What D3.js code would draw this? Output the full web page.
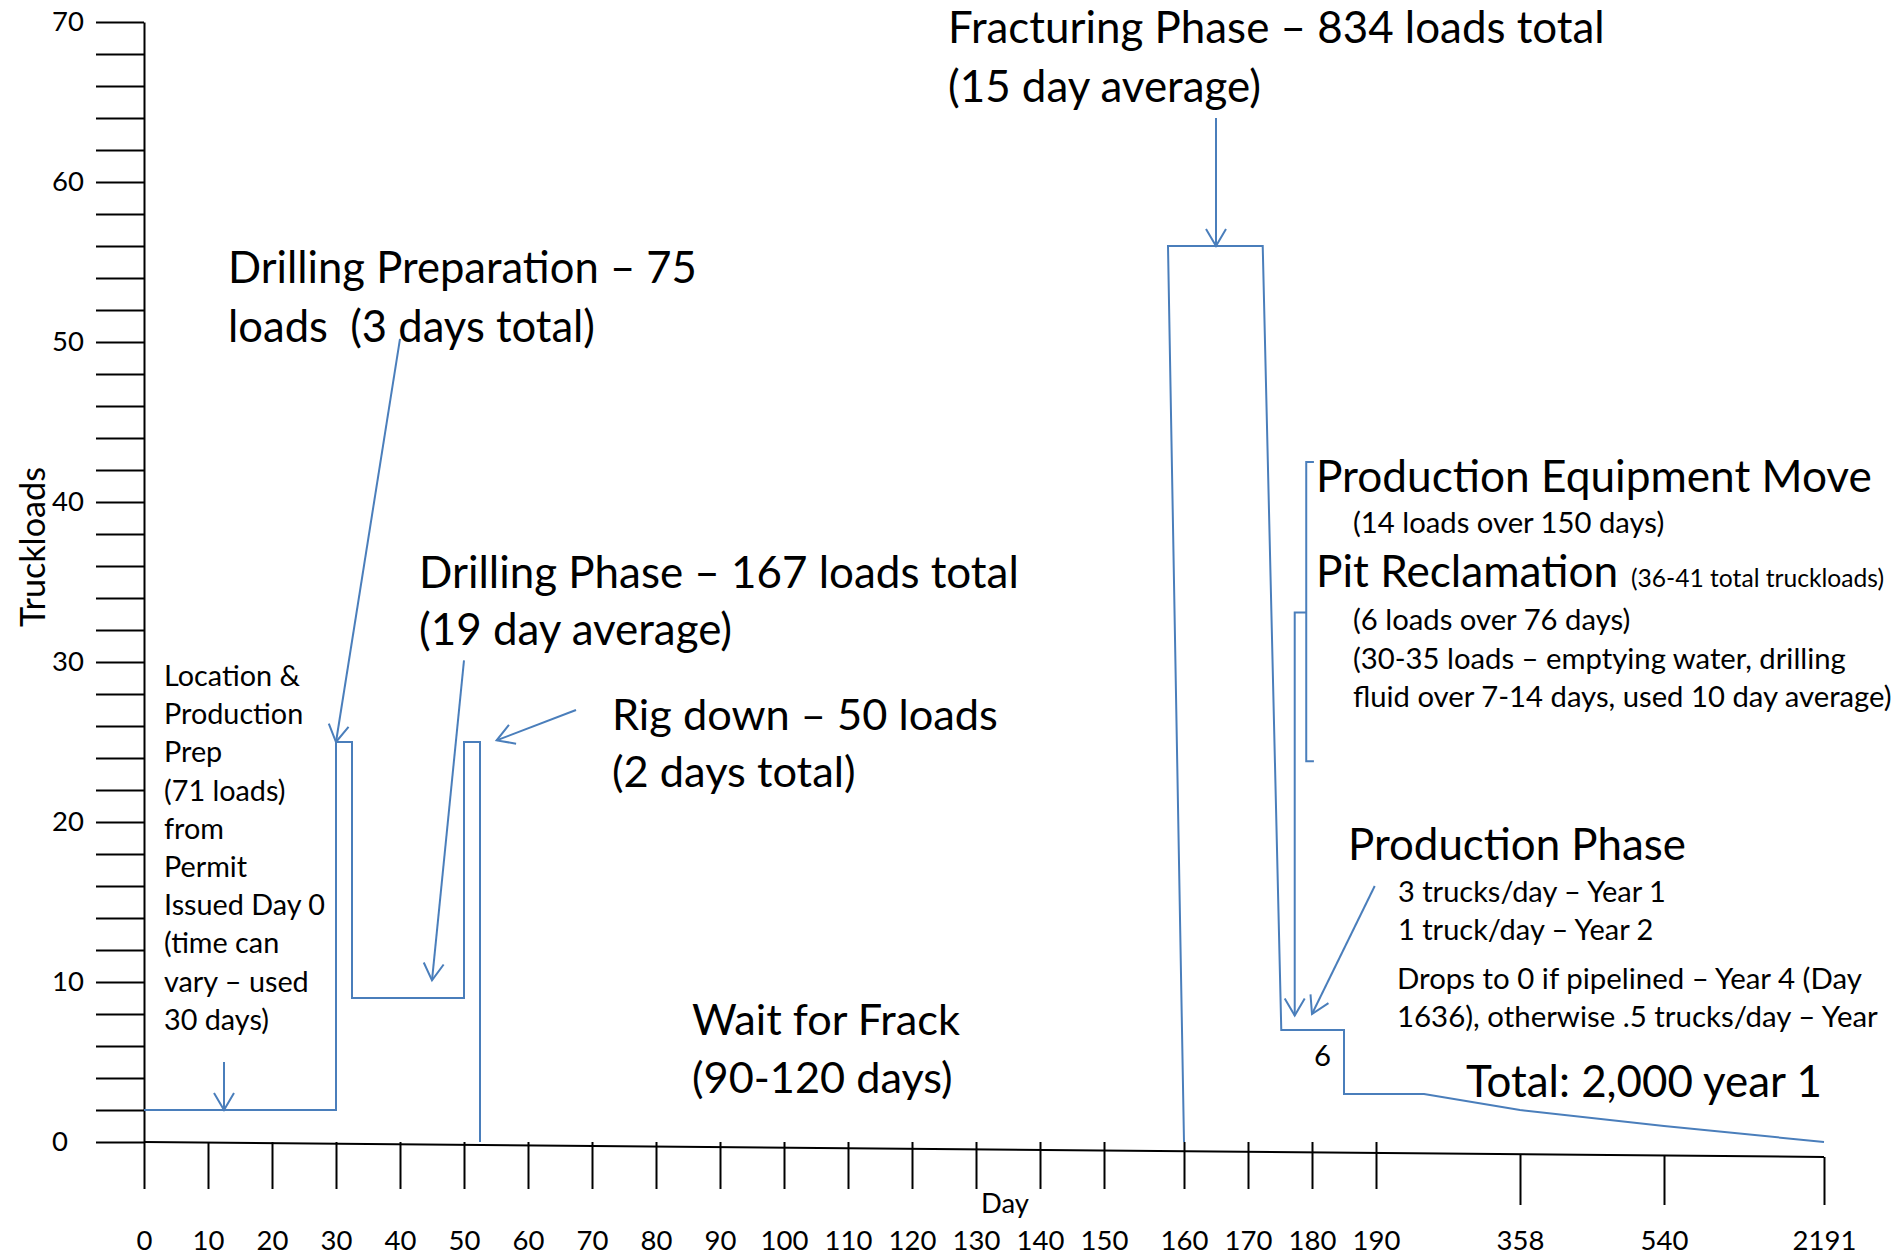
<!DOCTYPE html>
<html>
<head>
<meta charset="utf-8">
<script src="https://cdn.jsdelivr.net/npm/d3@7"></script>
<style>
	body { margin: 0; background: #fff; }
	svg { display: block; }
	text { font-family: Lato, 'Open Sans', sans-serif; fill: #000; white-space: pre; }
</style>
</head>
<body>
<div id="app"></div>
<script>
// ---- data ----

// y axis: minor tick every 2 loads, label every 10
const loadTicks = d3.range(0, 71, 2)
const loadLabels = [0, 10, 20, 30, 40, 50, 60, 70]

// x axis ticks (the original stretches the scale after day 150)
const dayTicks = [0, 10, 20, 30, 40, 50, 60, 70, 80, 90, 100, 110, 120, 130, 140, 150, 160, 170, 180, 190, 358, 540, 2191]
const dayBreaks = [0, 150, 160, 190, 358, 540, 2191]

// truckloads per day: location prep, drilling prep, drilling, rig down
const prepDays = [0, 30, 30, 32.5, 32.5, 50, 50, 52.5, 52.5]
const prepLoads = [2, 2, 25, 25, 9, 9, 25, 25, 0]

// fracturing, pit reclamation step, production decline
const fracDays = [160, 158, 172.3, 175.2, 185, 185, 246, 358, 540, 2191]
const fracLoads = [0, 56, 56, 7, 7, 3, 3, 2, 1, 0]

// bracket grouping production equipment move + pit reclamation
const bracketDays = [180.3, 179.1, 179.1, 180.3]
const bracketLoads = [42.5, 42.5, 23.8, 23.8]

// annotation arrows, [day, loads] from tail to head
const arrows = [
	[[12.5, 5], [12.5, 2]], // location & production prep
	[[40, 50.2], [30, 25]], // drilling preparation
	[[50, 30.1], [45, 10.1]], // drilling phase
	[[67.5, 27], [55.1, 25.1]], // rig down
	[[165, 64], [165, 56]], // fracturing
	[[179.1, 33.1], [177.3, 33.1], [177.3, 7.9]], // pit reclamation
	[[189.8, 16], [180, 8]], // production phase
]

// ---- layout ----
const width = 1901
const height = 1255
const plotLeft = 144
const plotTop = 22
const plotBottom = 1142
const breakOffsets = [0, 960, 1040, 1232, 1376, 1520, 1680] // px from the y axis
const axisDrop = 15 // the day axis is drawn slightly tilted in the original
const blue = '#4a7ebb'

const svg = d3.select('#app').append('svg').attr('width', width).attr('height', height)

const x = d3
	.scaleLinear()
	.domain(dayBreaks)
	.range(breakOffsets.map((o) => plotLeft + o))
const y = d3.scaleLinear().domain([0, 70]).range([plotBottom, plotTop])

// arrow head
svg.append('defs')
	.append('marker')
	.attr('id', 'head')
	.attr('markerUnits', 'userSpaceOnUse')
	.attr('viewBox', '-20 -12 24 24')
	.attr('markerWidth', 24)
	.attr('markerHeight', 24)
	.attr('refX', 0)
	.attr('refY', 0)
	.attr('orient', 'auto')
	.append('path')
	.attr('d', 'M-17,-10L0,0L-17,10')
	.attr('fill', 'none')
	.attr('stroke', blue)
	.attr('stroke-width', 2)

// y axis
const yAxis = d3
	.axisLeft(y)
	.tickValues(loadTicks)
	.tickSize(48)
	.tickSizeOuter(0)
	.tickFormat((d) => (loadLabels.includes(d) ? d : ''))
const gy = svg.append('g').attr('transform', `translate(${plotLeft},0)`).call(yAxis)
gy.selectAll('line, path').attr('stroke', '#000').attr('stroke-width', 2)
gy.selectAll('text').attr('x', -92).attr('text-anchor', 'start').style('font-size', '27.5px')

// x axis, domain line replaced by the tilted one
const drop = (px) => (axisDrop * (px - plotLeft)) / (x(dayTicks[dayTicks.length - 1]) - plotLeft)
const xAxis = d3.axisBottom(x).tickValues(dayTicks).tickSize(47).tickSizeOuter(0).tickFormat((d) => d)
const gx = svg.append('g').attr('transform', `translate(0,${plotBottom})`).call(xAxis)
gx.select('.domain').remove()
gx.selectAll('line').attr('stroke', '#000').attr('stroke-width', 2)
gx.selectAll('.tick')
	.filter((d) => d > 190)
	.select('line')
	.attr('y1', (d) => drop(x(d)))
	.attr('y2', 63)
gx.selectAll('text').attr('y', 88).attr('dy', '0.71em').style('font-size', '27.5px')

svg.append('line')
	.attr('x1', x(0))
	.attr('y1', y(0))
	.attr('x2', x(dayTicks[dayTicks.length - 1]))
	.attr('y2', y(0) + axisDrop)
	.attr('stroke', '#000')
	.attr('stroke-width', 2)

// profile lines
const line = d3
	.line()
	.x((d) => x(d[0]))
	.y((d) => y(d[1]))

const profiles = [d3.zip(prepDays, prepLoads), d3.zip(fracDays, fracLoads), d3.zip(bracketDays, bracketLoads)]
svg.selectAll('path.profile')
	.data(profiles)
	.enter()
	.append('path')
	.attr('class', 'profile')
	.attr('d', line)
	.attr('fill', 'none')
	.attr('stroke', blue)
	.attr('stroke-width', 2)

svg.selectAll('path.arrow')
	.data(arrows)
	.enter()
	.append('path')
	.attr('class', 'arrow')
	.attr('d', line)
	.attr('fill', 'none')
	.attr('stroke', blue)
	.attr('stroke-width', 2)
	.attr('marker-end', 'url(#head)')

// text notes; font size is fitted so one line matches its width in the original
const notes = [
	{ lines: ['Fracturing Phase – 834 loads total', '(15 day average)'], x: 948, y: [43, 102], fit: 657 },
	{ lines: ['Drilling Preparation – 75', 'loads  (3 days total)'], x: 228, y: [283, 342], fit: 469 },
	{
		lines: ['Location &', 'Production', 'Prep', '(71 loads)', 'from', 'Permit', 'Issued Day 0', '(time can', 'vary – used', '30 days)'],
		x: 164,
		y: d3.range(10).map((i) => 686 + i * 38.2),
		fit: 161,
		fitLine: 6,
	},
	{ lines: ['Drilling Phase – 167 loads total', '(19 day average)'], x: 419, y: [588, 645], fit: 600 },
	{ lines: ['Rig down – 50 loads', '(2 days total)'], x: 612, y: [730, 787], fit: 386 },
	{ lines: ['Wait for Frack', '(90-120 days)'], x: 692, y: [1035, 1093], fit: 268 },
	{ lines: ['Production Equipment Move', 'Pit Reclamation'], x: 1316, y: [492, 587], fit: 556 },
	{ lines: ['(36-41 total truckloads)'], x: 1631, y: [587], fit: 253 },
	{
		lines: ['(14 loads over 150 days)', '(6 loads over 76 days)', '(30-35 loads – emptying water, drilling', 'fluid over 7-14 days, used 10 day average)'],
		x: 1353,
		y: [533, 630, 669, 707],
		fit: 539,
		fitLine: 3,
	},
	{ lines: ['Production Phase'], x: 1348, y: [860], fit: 338 },
	{ lines: ['3 trucks/day – Year 1', '1 truck/day – Year 2'], x: 1398, y: [902, 940], fit: 268 },
	{ lines: ['Drops to 0 if pipelined – Year 4 (Day', '1636), otherwise .5 trucks/day – Year'], x: 1397, y: [989, 1027], fit: 481, fitLine: 1 },
	{ lines: ['6'], x: 1314, y: [1066], fit: 17 },
	{ lines: ['Total: 2,000 year 1'], x: 1466, y: [1097], fit: 356 },
	{ lines: ['Day'], x: 981, y: [1213], fit: 48 },
]

function fitFont(sel, nodeIndex, targetWidth) {
	sel.style('font-size', '40px')
	const w = sel.nodes()[nodeIndex].getComputedTextLength()
	sel.style('font-size', (40 * targetWidth) / w + 'px')
}

notes.forEach((n) => {
	const g = svg.append('g')
	const t = g
		.selectAll('text')
		.data(n.lines)
		.enter()
		.append('text')
		.attr('x', n.x)
		.attr('y', (d, i) => n.y[i])
		.text((d) => d)
	fitFont(t, n.fitLine || 0, n.fit)
})

// y axis title
const yTitle = svg
	.append('text')
	.attr('transform', 'translate(45,547) rotate(-90)')
	.attr('text-anchor', 'middle')
	.text('Truckloads')
fitFont(yTitle, 0, 160)
</script>
</body>
</html>
